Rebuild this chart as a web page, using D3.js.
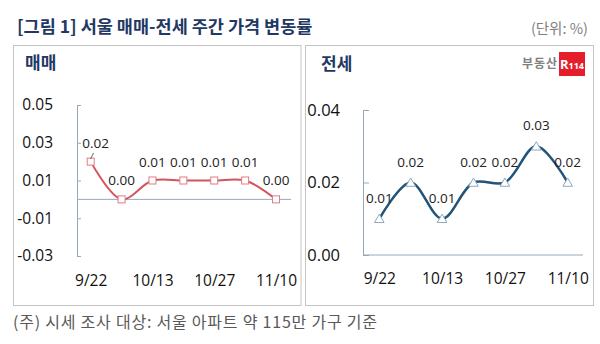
<!DOCTYPE html>
<html><head><meta charset="utf-8">
<script src="https://cdn.jsdelivr.net/npm/d3@7"></script>
<style>
html,body{margin:0;padding:0;background:#fff;}
svg{display:block;}
</style></head>
<body>
<svg id="c" width="600" height="344"></svg>
<script>
// ---- data ----
const weeks = ["9/22","9/29","10/13","10/20","10/27","11/3","11/10"];
const shownWeeks = ["9/22","10/13","10/27","11/10"];
const saleValues = [0.02, 0.00, 0.01, 0.01, 0.01, 0.01, 0.00];
const saleLabels = ["0.02","0.00","0.01","0.01","0.01","0.01","0.00"];
const leaseValues = [0.01, 0.02, 0.01, 0.02, 0.02, 0.03, 0.02];
const leaseLabels = ["0.01","0.02","0.01","0.02","0.02","0.03","0.02"];
const saleTicks = [0.05, 0.03, 0.01, -0.01, -0.03];
const leaseTicks = [0.04, 0.02, 0.00];
const title = "[그림 1] 서울 매매-전세 주간 가격 변동률";
const unitText = "(단위: %)";
const footnote = "(주) 시세 조사 대상: 서울 아파트 약 115만 가구 기준";

const svg = d3.select("#c");
const KR = "'Noto Sans CJK KR','Noto Sans',sans-serif";
const NUM = "'Open Sans','Noto Sans',sans-serif";
const navy = "#1f3864";
const axisCol = "#98a8bb";
const fmt = d => d3.format(".2f")(d).replace("\u2212","-");

// header
svg.append("text").attr("x",17).attr("y",33).attr("font-family",KR).attr("font-weight","bold")
  .attr("font-size",17.5).attr("fill",navy).text(title);
svg.append("text").attr("x",588).attr("y",34).attr("text-anchor","end").attr("font-family",KR)
  .attr("font-size",14.5).attr("fill","#7f7f7f").text(unitText);

// panels
svg.append("rect").attr("x",13.5).attr("y",45.5).attr("width",287.5).attr("height",260)
  .attr("fill","none").attr("stroke","#c4c4c4");
svg.append("rect").attr("x",305.5).attr("y",45.5).attr("width",288).attr("height",260)
  .attr("fill","none").attr("stroke","#c4c4c4");

svg.append("text").attr("x",25).attr("y",69).attr("font-family",KR).attr("font-weight","bold")
  .attr("font-size",17).attr("fill",navy).text("매매");
svg.append("text").attr("x",321).attr("y",70).attr("font-family",KR).attr("font-weight","bold")
  .attr("font-size",17).attr("fill",navy).text("전세");

// logo
svg.append("text").attr("x",522).attr("y",68).attr("font-family",KR).attr("font-weight","bold")
  .attr("font-size",12).attr("fill","#808080").attr("textLength",35).text("부동산");
svg.append("rect").attr("x",559).attr("y",52).attr("width",26).attr("height",24).attr("fill","#e41e2b");
const lg = svg.append("text").attr("x",572).attr("y",69).attr("text-anchor","middle")
  .attr("font-family",NUM).attr("font-weight","bold").attr("fill","#fff");
lg.append("tspan").attr("font-size",13).text("R");
lg.append("tspan").attr("font-size",9).text("114");

// footnote
svg.append("text").attr("x",13).attr("y",328).attr("font-family",KR)
  .attr("font-size",16).attr("fill","#595959").attr("textLength",364).text(footnote);

// ---- left chart: 매매 ----
const xL = d3.scalePoint().domain(weeks).range([90.7, 276]);
const yL = d3.scaleLinear().domain([-0.03, 0.05]).range([256, 105]);

const axL = svg.append("g").attr("transform","translate(77,0)")
  .call(d3.axisLeft(yL).tickValues(saleTicks).tickSizeInner(-4).tickSizeOuter(0).tickPadding(24)
    .tickFormat(fmt));
axL.select(".domain").attr("stroke",axisCol);
axL.selectAll(".tick line").attr("stroke",axisCol);
axL.selectAll(".tick text").attr("font-family",NUM).attr("font-size",15.5).attr("fill","#111");

svg.append("line").attr("x1",77).attr("x2",291).attr("y1",yL(0)).attr("y2",yL(0)).attr("stroke",axisCol);

const xaL = svg.append("g").attr("transform","translate(0,"+yL(-0.03)+")")
  .call(d3.axisBottom(xL).tickValues(shownWeeks).tickSize(0).tickPadding(19));
xaL.select(".domain").remove();
xaL.selectAll(".tick text").attr("font-family",NUM).attr("font-size",15.5).attr("fill","#111");

const lineL = d3.line().x((d,i)=>xL(weeks[i])).y(d=>yL(d)).curve(d3.curveCatmullRom.alpha(0.5));
svg.append("path").datum(saleValues).attr("d",lineL).attr("fill","none")
  .attr("stroke","#d4535d").attr("stroke-width",2);
svg.selectAll(".sq").data(saleValues).join("rect")
  .attr("x",(d,i)=>xL(weeks[i])-3.5).attr("y",d=>yL(d)-3.5).attr("width",7).attr("height",7)
  .attr("fill","#fff").attr("stroke","#e07c84").attr("stroke-width",1);
// leader line for first label
svg.append("line").attr("x1",90.5).attr("y1",159).attr("x2",93.5).attr("y2",153).attr("stroke","#444").attr("stroke-width",0.8);
svg.selectAll(".lblL").data(saleValues).join("text")
  .attr("x",(d,i)=>xL(weeks[i]) + (i===0?5:0)).attr("y",d=>yL(d) - 14)
  .attr("text-anchor","middle").attr("font-family",NUM).attr("font-size",13.5).attr("fill","#222")
  .text((d,i)=>saleLabels[i]);

// ---- right chart: 전세 ----
const xR = d3.scalePoint().domain(weeks).range([379.3, 567.7]);
const yR = d3.scaleLinear().domain([0, 0.04]).range([255, 110]);

const axR = svg.append("g").attr("transform","translate(363,0)")
  .call(d3.axisLeft(yR).tickValues(leaseTicks).tickSizeInner(-6).tickSizeOuter(0).tickPadding(23)
    .tickFormat(fmt));
axR.select(".domain").attr("stroke",axisCol);
axR.selectAll(".tick line").attr("stroke",axisCol);
axR.selectAll(".tick text").attr("font-family",NUM).attr("font-size",16.5).attr("fill","#111");

svg.append("line").attr("x1",363).attr("x2",583).attr("y1",yR(0)).attr("y2",yR(0)).attr("stroke",axisCol);

const xaR = svg.append("g").attr("transform","translate(0,"+yR(0)+")")
  .call(d3.axisBottom(xR).tickValues(shownWeeks).tickSize(0).tickPadding(18));
xaR.select(".domain").remove();
xaR.selectAll(".tick text").attr("font-family",NUM).attr("font-size",15.5).attr("fill","#111");

const lineR = d3.line().x((d,i)=>xR(weeks[i])).y(d=>yR(d)).curve(d3.curveCatmullRom.alpha(0.5));
svg.append("path").datum(leaseValues).attr("d",lineR).attr("fill","none")
  .attr("stroke","#215478").attr("stroke-width",2.5);
const tri = d3.symbol().type(d3.symbolTriangle).size(40);
svg.selectAll(".tr").data(leaseValues).join("path")
  .attr("d",tri).attr("transform",(d,i)=>"translate("+xR(weeks[i])+","+(yR(d)+1)+")")
  .attr("fill","#fff").attr("stroke","#8fa8bf").attr("stroke-width",1);
svg.selectAll(".lblR").data(leaseValues).join("text")
  .attr("x",(d,i)=>xR(weeks[i])).attr("y",d=>yR(d)-16)
  .attr("text-anchor","middle").attr("font-family",NUM).attr("font-size",13.5).attr("fill","#222")
  .text((d,i)=>leaseLabels[i]);
</script>
</body></html>
